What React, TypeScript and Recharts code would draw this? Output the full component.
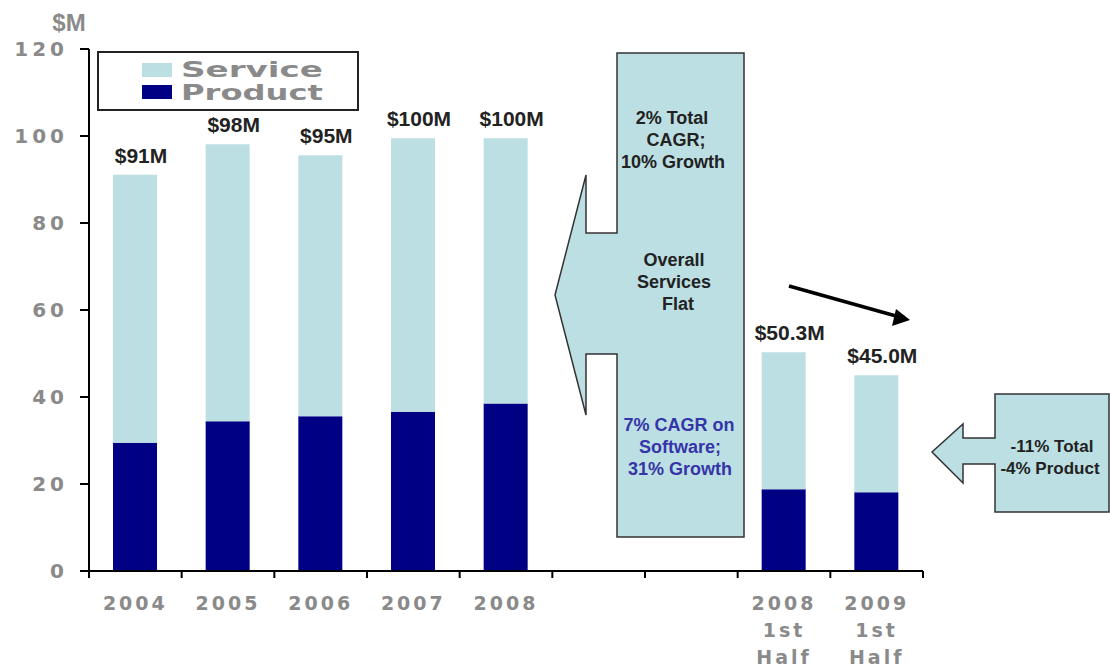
import { BarChart, Bar, XAxis, YAxis, LabelList, Legend } from 'recharts'

// revenue split, $M
const categories = ['2004', '2005', '2006', '2007', '2008', 'gap-a', 'gap-b', '2008 H1', '2009 H1']
const tickLabels = [['2004'], ['2005'], ['2006'], ['2007'], ['2008'], [], [], ['2008', '1st', 'Half'], ['2009', '1st', 'Half']]
const product = [29.5, 34.4, 35.6, 36.6, 38.5, null, null, 18.8, 18.1]
const service = [61.6, 63.7, 60.0, 62.9, 61.0, null, null, 31.5, 26.9]
const totalLabels = ['$91M', '$98M', '$95M', '$100M', '$100M', '', '', '$50.3M', '$45.0M']
const yTicks = [0, 20, 40, 60, 80, 100, 120]

const W = 1110
const H = 667
const MARGIN = { top: 49, right: 187, bottom: 0, left: 29 }
const Y_WIDTH = 60
const BAND = (W - MARGIN.left - Y_WIDTH - MARGIN.right) / categories.length

const LIGHT = '#bcdfe3'
const NAVY = '#000085'
const GREY = '#8a8a8a'
const DARK = '#222'

const data = categories.map((c, i) => ({
  name: c,
  product: product[i],
  service: service[i],
  label: totalLabels[i],
}))

function XTick({ x, y, index }: any) {
  const lines = tickLabels[index] || []
  return (
    <g>
      <line x1={x - BAND / 2} x2={x - BAND / 2} y1={y} y2={y + 7} stroke="#000" strokeWidth={2} />
      {index === categories.length - 1 && (
        <line x1={x + BAND / 2} x2={x + BAND / 2} y1={y} y2={y + 7} stroke="#000" strokeWidth={2} />
      )}
      {lines.map((t, i) => (
        <text
          key={i}
          x={x}
          y={y + 39 + i * 27}
          textAnchor="middle"
          fill={GREY}
          fontFamily="DejaVu Sans"
          fontWeight={700}
          fontSize={19}
          letterSpacing={3}
        >
          {t}
        </text>
      ))}
    </g>
  )
}

function YTick({ x, y, payload }: any) {
  return (
    <text x={x} y={y + 7} textAnchor="end" fill={GREY} fontFamily="DejaVu Sans" fontWeight={700} fontSize={20} letterSpacing={4}>
      {payload.value}
    </text>
  )
}

function TotalLabel({ x, y, width, value }: any) {
  if (!value) return null
  return (
    <text
      x={x + width / 2 + 6}
      y={y - 12}
      textAnchor="middle"
      fill={DARK}
      fontFamily="Liberation Sans, Arial, sans-serif"
      fontWeight={700}
      fontSize={21}
    >
      {value}
    </text>
  )
}

function LegendBox({ payload }: any) {
  const items = [...(payload || [])].reverse()
  return (
    <svg width={262} height={60}>
      <rect x={1} y={1} width={260} height={58} fill="#fff" stroke={DARK} strokeWidth={2} />
      {items.map((p: any, i: number) => (
        <g key={p.value}>
          <rect x={45} y={12 + i * 22} width={30} height={14} fill={p.color} />
          <text
            x={84}
            y={26 + i * 23}
            fill={GREY}
            fontFamily="DejaVu Sans"
            fontWeight={700}
            fontSize={21}
            textLength={142}
            lengthAdjust="spacingAndGlyphs"
          >
            {p.value}
          </text>
        </g>
      ))}
    </svg>
  )
}

const bigText = { fontFamily: 'Liberation Sans, Arial, sans-serif', fontWeight: 700, fontSize: 18 }
const smallText = { fontFamily: 'Liberation Sans, Arial, sans-serif', fontWeight: 700, fontSize: 17 }

function Annotations() {
  return (
    <svg width={W} height={H} style={{ position: 'absolute', left: 0, top: 0, pointerEvents: 'none' }}>
      <text x={69} y={31} textAnchor="middle" fill={GREY} fontFamily="Liberation Sans, Arial, sans-serif" fontWeight={700} fontSize={24}>
        $M
      </text>
      <polygon
        points="617,53 744,53 744,537 617,537 617,354 586,354 586,415 555,295 586,175 586,233 617,233"
        fill={LIGHT}
        stroke="#333"
        strokeWidth={1.5}
      />
      <g {...bigText} fill={DARK} textAnchor="middle">
        <text x={672} y={124}>2% Total</text>
        <text x={676} y={146}>CAGR;</text>
        <text x={673} y={168}>10% Growth</text>
        <text x={674} y={266}>Overall</text>
        <text x={674} y={288}>Services</text>
        <text x={678} y={310}>Flat</text>
      </g>
      <g {...bigText} fill="#3535a8" textAnchor="middle">
        <text x={679} y={431}>7% CAGR on</text>
        <text x={680} y={453}>Software;</text>
        <text x={680} y={475}>31% Growth</text>
      </g>
      <polygon
        points="995,394 1109,394 1109,512 995,512 995,464 963,464 963,483 932,452 963,424 963,438 995,438"
        fill={LIGHT}
        stroke="#333"
        strokeWidth={1.5}
      />
      <g {...smallText} fill={DARK} textAnchor="middle">
        <text x={1052} y={452}>-11% Total</text>
        <text x={1050} y={474}>-4% Product</text>
      </g>
      <line x1={789} y1={286} x2={896} y2={316} stroke="#000" strokeWidth={3.5} />
      <polygon points="910,320 892,326 896,309" fill="#000" />
    </svg>
  )
}

export default function App() {
  return (
    <div style={{ position: 'absolute', left: 0, top: 0, width: W, height: H, background: '#fff' }}>
      <BarChart width={W} height={H} data={data} margin={MARGIN} barSize={44}>
        <XAxis
          dataKey="name"
          height={96}
          tick={<XTick />}
          tickLine={false}
          tickSize={0}
          tickMargin={0}
          interval={0}
          axisLine={{ stroke: '#000', strokeWidth: 2 }}
        />
        <YAxis
          width={Y_WIDTH}
          domain={[0, 120]}
          ticks={yTicks}
          tick={<YTick />}
          tickSize={9}
          tickMargin={12}
          tickLine={{ stroke: '#000', strokeWidth: 2 }}
          axisLine={{ stroke: '#000', strokeWidth: 2 }}
        />
        <Legend
          layout="horizontal"
          verticalAlign="middle"
          align="center"
          content={<LegendBox />}
          wrapperStyle={{ left: 97, top: 51, width: 262, height: 60 }}
        />
        <Bar dataKey="product" name="Product" stackId="a" fill={NAVY} isAnimationActive={false} />
        <Bar dataKey="service" name="Service" stackId="a" fill={LIGHT} isAnimationActive={false}>
          <LabelList dataKey="label" content={<TotalLabel />} />
        </Bar>
      </BarChart>
      <Annotations />
    </div>
  )
}
